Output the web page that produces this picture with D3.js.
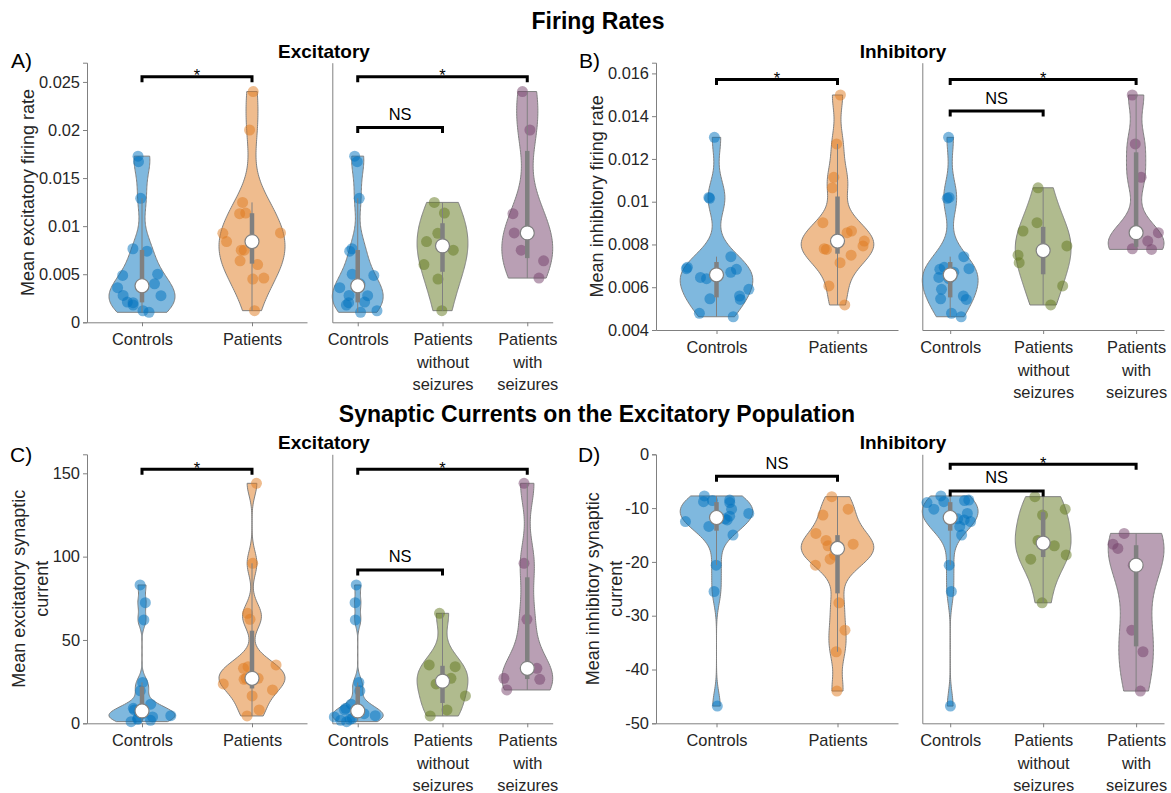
<!DOCTYPE html>
<html>
<head>
<meta charset="utf-8">
<script src="https://cdn.jsdelivr.net/npm/d3@7"></script>
<style>
  body { margin: 0; background: #fff; }
  svg text { font-family: "Liberation Sans", Arial, Helvetica, sans-serif; }
</style>
</head>
<body>
<svg id="fig" width="1171" height="793"></svg>
<script>
// ---------------- data ----------------
const pairCategories = [["Controls"], ["Patients"]];
const splitCategories = [["Controls"], ["Patients", "without", "seizures"], ["Patients", "with", "seizures"]];

// mean excitatory firing rate
const excRateControls = [0.01728, 0.0167, 0.0129, 0.00765, 0.0074, 0.0050, 0.00488, 0.0040, 0.0036, 0.0028, 0.00277, 0.0021, 0.00204, 0.0018, 0.0012, 0.00104];
const excRateNoSeizures = [0.01247, 0.01136, 0.00925, 0.0084, 0.0075, 0.0060, 0.0045, 0.00121];
const excRateSeizures = [0.0240, 0.0200, 0.0113, 0.0093, 0.0075, 0.0064, 0.0046];
const excRateTicks = [0, 0.005, 0.01, 0.015, 0.02, 0.025];
const excRatePairSig = [[1, 2, 0.02553, "*"]];
const excRateSplitSig = [[1, 3, 0.02553, "*"], [1, 2, 0.02027, "NS"]];

// mean inhibitory firing rate
const inhRateControls = [0.01301, 0.01016, 0.0102, 0.00743, 0.00693, 0.00684, 0.0067, 0.00687, 0.00646, 0.0064, 0.00559, 0.0059, 0.00543, 0.00546, 0.00478, 0.00462];
const inhRateNoSeizures = [0.01065, 0.00902, 0.00863, 0.00793, 0.0075, 0.00715, 0.00606, 0.00517];
const inhRateSeizures = [0.01499, 0.0127, 0.01114, 0.00855, 0.00816, 0.00777, 0.0078];
const inhRateTicks = [0.004, 0.006, 0.008, 0.01, 0.012, 0.014, 0.016];
const inhRatePairSig = [[1, 2, 0.01572, "*"]];
const inhRateSplitSig = [[1, 3, 0.01572, "*"], [1, 2, 0.01424, "NS"]];

// mean excitatory synaptic current
const excCurControls = [83, 72.4, 62, 24.5, 19.5, 11.5, 9, 8, 6.8, 5.8, 4.6, 3.8, 3, 2.4, 1.8, 1];
const excCurNoSeizures = [66, 35, 34, 27, 23.6, 16.4, 8, 4.4];
const excCurSeizures = [144, 96, 62.4, 33, 27, 26.4, 20];
const excCurTicks = [0, 50, 100, 150];
const excCurPairSig = [[1, 2, 152.4, "*"]];
const excCurSplitSig = [[1, 3, 152.4, "*"], [1, 2, 92, "NS"]];

// mean inhibitory synaptic current
const inhCurControls = [-7.74, -8.5, -8.6, -8.8, -8.98, -10.2, -11.0, -11.5, -12.0, -12.2, -12.5, -13.4, -15, -20.6, -25.5, -46.8];
const inhCurNoSeizures = [-7.87, -10.2, -11.3, -16.0, -17.0, -18.7, -19.5, -27.6];
const inhCurSeizures = [-14.7, -16.7, -17.5, -20.6, -32.7, -36.7, -44.0];
const inhCurTicks = [0, -10, -20, -30, -40, -50];
const inhCurPairSig = [[1, 2, -4.1, "NS"]];
const inhCurSplitSig = [[1, 3, -1.86, "*"], [1, 2, -6.8, "NS"]];

// ---------------- style ----------------
const AXIS = "#808080", TXT = "#262626";
const TICK_FS = 16.4, LABEL_FS = 18;
const palette = { controls: "#0072BD", patients: "#E07A1E", noSz: "#62781E", sz: "#74406A" };

const svg = d3.select("#fig");

// ---------------- statistics ----------------
function quantileM(s, p) {
  const n = s.length, pos = p * n + 0.5;
  if (pos <= 1) return s[0];
  if (pos >= n) return s[n - 1];
  const lo = Math.floor(pos), f = pos - lo;
  return s[lo - 1] + f * (s[lo] - s[lo - 1]);
}

function violinStats(data) {
  const s = data.slice().sort(d3.ascending);
  const n = s.length, med = d3.median(s);
  const mad = d3.median(s.map(v => Math.abs(v - med)));
  const bw = (mad / 0.6745) * Math.pow(4 / (3 * n), 0.2);
  const lo = s[0], hi = s[n - 1];
  const grid = d3.range(120).map(i => lo + (hi - lo) * i / 119);
  const dens = grid.map(v => d3.mean(s, x => Math.exp(-0.5 * ((v - x) / bw) ** 2)));
  const dmax = d3.max(dens);
  const half = dens.map(d => d / dmax * 0.3);
  const q1 = quantileM(s, 0.25), q3 = quantileM(s, 0.75), iqr = q3 - q1;
  let wlo = q1 - 1.5 * iqr; wlo = Math.max(wlo, d3.min(s.filter(v => v > wlo)));
  let whi = q3 + 1.5 * iqr; whi = Math.min(whi, d3.max(s.filter(v => v < whi)));
  return { s, med, grid, half, q1, q3, wlo, whi };
}

function halfAt(st, v) {
  const i = d3.bisectLeft(st.grid, v);
  if (i <= 0) return st.half[0];
  if (i >= st.grid.length) return st.half[st.half.length - 1];
  const t = (v - st.grid[i - 1]) / (st.grid[i] - st.grid[i - 1]);
  return st.half[i - 1] + t * (st.half[i] - st.half[i - 1]);
}

// ---------------- drawing ----------------
function drawViolin(g, x, y, pos, data, color, seed) {
  const st = violinStats(data);
  const outline = st.grid.map((v, i) => [pos + st.half[i], v])
    .concat(st.grid.map((v, i) => [pos - st.half[i], v]).reverse());
  g.append("path")
    .attr("d", d3.line().x(p => x(p[0])).y(p => y(p[1]))(outline) + "Z")
    .attr("fill", color).attr("fill-opacity", 0.5)
    .attr("stroke", AXIS).attr("stroke-width", 1);

  const rnd = d3.randomUniform.source(d3.randomLcg(seed))(-1, 1);
  g.append("g").selectAll("circle").data(data).join("circle")
    .attr("cx", v => x(pos + rnd() * halfAt(st, v)))
    .attr("cy", v => y(v))
    .attr("r", 5.5)
    .attr("fill", color).attr("fill-opacity", 0.5);

  g.append("line")
    .attr("x1", x(pos)).attr("x2", x(pos))
    .attr("y1", y(st.wlo)).attr("y2", y(st.whi))
    .attr("stroke", AXIS).attr("stroke-width", 1);
  g.append("line")
    .attr("x1", x(pos)).attr("x2", x(pos))
    .attr("y1", y(st.q1)).attr("y2", y(st.q3))
    .attr("stroke", AXIS).attr("stroke-width", 4.5);
  g.append("circle")
    .attr("cx", x(pos)).attr("cy", y(st.med)).attr("r", 7)
    .attr("fill", "#fff").attr("stroke", AXIS).attr("stroke-width", 1.2);
}

function drawBracket(g, x, y, sig) {
  const [a, b, level, label] = sig;
  const yy = y(level), x1 = x(a), x2 = x(b);
  g.append("path")
    .attr("d", `M${x1},${yy + 5.5}V${yy}H${x2}V${yy + 5.5}`)
    .attr("fill", "none").attr("stroke", "#000").attr("stroke-width", 3);
  g.append("text")
    .attr("x", (x1 + x2) / 2)
    .attr("y", label === "*" ? yy + 4.5 : yy - 7.5)
    .attr("text-anchor", "middle")
    .attr("font-size", TICK_FS).attr("fill", "#000")
    .text(label);
}

function styleAxis(sel) {
  sel.select(".domain").attr("stroke", AXIS);
  sel.selectAll(".tick line").attr("stroke", AXIS);
  sel.selectAll(".tick text").attr("fill", TXT).attr("font-size", TICK_FS)
    .attr("font-family", '"Liberation Sans", Arial, sans-serif');
  sel.attr("font-family", null).attr("font-size", null);
}

function drawAxes(g, x, y, cats, ticks, withLabels) {
  const n = cats.length;
  const xa = g.append("g").attr("transform", `translate(0,${y.range()[0]})`)
    .call(d3.axisBottom(x).tickValues(d3.range(1, n + 1)).tickSize(4).tickSizeOuter(0).tickFormat(""));
  styleAxis(xa);
  xa.selectAll(".tick").each(function (d) {
    const t = d3.select(this).append("text")
      .attr("y", 23).attr("text-anchor", "middle")
      .attr("fill", TXT).attr("font-size", TICK_FS);
    cats[d - 1].forEach((line, i) => {
      t.append("tspan").attr("x", 0).attr("y", 23 + i * 22.5).text(line);
    });
  });

  const yAxis = d3.axisLeft(y).tickSizeOuter(0);
  if (withLabels) {
    yAxis.tickValues(ticks).tickSize(4).tickPadding(3).tickFormat(v => String(+v.toPrecision(6)));
  } else {
    yAxis.tickValues([]);
  }
  const ya = g.append("g").attr("transform", `translate(${x.range()[0]},0)`).call(yAxis);
  styleAxis(ya);
}

function drawPanel(frame, spec) {
  const y = d3.scaleLinear().domain(spec.domain).range(frame.y);

  // controls vs patients
  const xp = d3.scaleLinear().domain([0.5, 2.5]).range(frame.pair);
  const gp = svg.append("g");
  drawAxes(gp, xp, y, pairCategories, spec.ticks, true);
  drawViolin(gp, xp, y, 1, spec.controls, palette.controls, spec.seed);
  drawViolin(gp, xp, y, 2, spec.noSz.concat(spec.sz), palette.patients, spec.seed + 1);
  spec.pairSig.forEach(s => drawBracket(gp, xp, y, s));

  // controls vs patients split by seizures
  const xs = d3.scaleLinear().domain([0.7, 3.3]).range(frame.split);
  const gs = svg.append("g");
  drawAxes(gs, xs, y, splitCategories, spec.ticks, false);
  drawViolin(gs, xs, y, 1, spec.controls, palette.controls, spec.seed + 2);
  drawViolin(gs, xs, y, 2, spec.noSz, palette.noSz, spec.seed + 3);
  drawViolin(gs, xs, y, 3, spec.sz, palette.sz, spec.seed + 4);
  spec.splitSig.forEach(s => drawBracket(gs, xs, y, s));

  // y label
  spec.ylabel.forEach((line, i) => {
    svg.append("text")
      .attr("transform", `translate(${frame.labelX[i]},${(frame.y[0] + frame.y[1]) / 2}) rotate(-90)`)
      .attr("text-anchor", "middle").attr("dominant-baseline", "central")
      .attr("font-size", LABEL_FS).attr("fill", TXT)
      .text(line);
  });

  // panel letter and subtitle
  svg.append("text").attr("x", frame.letter[0]).attr("y", frame.letter[1])
    .attr("font-size", 21).attr("fill", "#000").text(spec.letter);
  svg.append("text").attr("x", frame.sub[0]).attr("y", frame.sub[1])
    .attr("text-anchor", "middle").attr("font-size", 19).attr("font-weight", "bold")
    .attr("fill", "#000").text(spec.subtitle);
}

drawPanel(
  { pair: [87, 307], split: [332.3, 552.7], y: [322.3, 62.7], labelX: [28], letter: [11, 68], sub: [324, 58] },
  { letter: "A)", subtitle: "Excitatory", ylabel: ["Mean excitatory firing rate"], domain: [0, 0.027],
    ticks: excRateTicks, controls: excRateControls, noSz: excRateNoSeizures, sz: excRateSeizures,
    pairSig: excRatePairSig, splitSig: excRateSplitSig, seed: 11 });

drawPanel(
  { pair: [656, 898], split: [922.3, 1164], y: [330, 62.7], labelX: [597], letter: [579, 68], sub: [903, 58] },
  { letter: "B)", subtitle: "Inhibitory", ylabel: ["Mean inhibitory firing rate"], domain: [0.004, 0.0165],
    ticks: inhRateTicks, controls: inhRateControls, noSz: inhRateNoSeizures, sz: inhRateSeizures,
    pairSig: inhRatePairSig, splitSig: inhRateSplitSig, seed: 31 });

drawPanel(
  { pair: [87, 307], split: [332.3, 552.7], y: [723.3, 454.3], labelX: [19, 42], letter: [10, 462], sub: [324, 449] },
  { letter: "C)", subtitle: "Excitatory", ylabel: ["Mean excitatory synaptic", "current"], domain: [0, 161.4],
    ticks: excCurTicks, controls: excCurControls, noSz: excCurNoSeizures, sz: excCurSeizures,
    pairSig: excCurPairSig, splitSig: excCurSplitSig, seed: 51 });

drawPanel(
  { pair: [656, 898], split: [922.3, 1164], y: [723.3, 454.3], labelX: [593, 616], letter: [578, 462], sub: [903, 449] },
  { letter: "D)", subtitle: "Inhibitory", ylabel: ["Mean inhibitory synaptic", "current"], domain: [-50, 0],
    ticks: inhCurTicks, controls: inhCurControls, noSz: inhCurNoSeizures, sz: inhCurSeizures,
    pairSig: inhCurPairSig, splitSig: inhCurSplitSig, seed: 71 });

// figure titles
svg.append("text").attr("x", 598).attr("y", 29).attr("text-anchor", "middle")
  .attr("font-size", 23).attr("font-weight", "bold").attr("fill", "#000").text("Firing Rates");
svg.append("text").attr("x", 597).attr("y", 422).attr("text-anchor", "middle")
  .attr("font-size", 23).attr("font-weight", "bold").attr("fill", "#000")
  .text("Synaptic Currents on the Excitatory Population");
</script>
</body>
</html>
